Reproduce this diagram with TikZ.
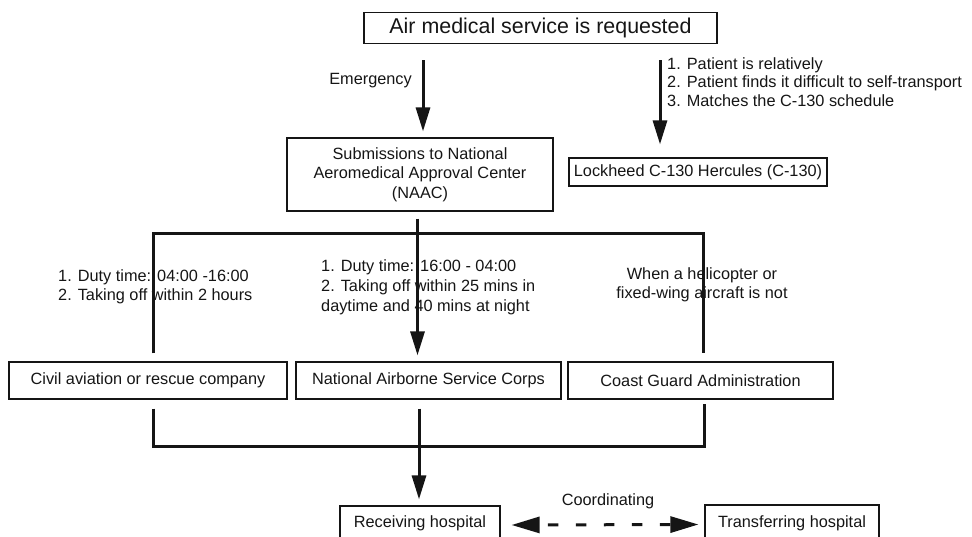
\documentclass[tikz,border=0pt]{standalone}
\usepackage{fontspec}
\setmainfont{Liberation Sans}
\usetikzlibrary{arrows.meta}
\definecolor{ink}{HTML}{151515}
\begin{document}
\begin{tikzpicture}[x=1pt,y=-1pt,
  box/.style={draw=ink, line width=1.2pt, inner sep=0pt, align=center, text=ink,
              font=\fontsize{16.3}{19.5}\selectfont},
  lbl/.style={inner sep=0pt, text=ink, font=\fontsize{16.3}{19}\selectfont},
  conn/.style={line width=3pt, draw=ink},
  arr/.style={conn, -{Triangle[length=24pt,width=14pt]}},
  dbl/.style={conn, dash pattern=on 10.5pt off 17.5pt, dash phase=19pt,
              {Triangle[length=28pt,width=16pt]}-{Triangle[length=28pt,width=16pt]}}
]
\useasboundingbox (0,0) rectangle (972,537);

% boxes
\node[box, minimum width=353pt, minimum height=31pt, font=\fontsize{21.4}{24}\selectfont] (top) at (540.5,28.2) {Air medical service is requested};
\node[box, minimum width=266pt, minimum height=73pt] (naac) at (420,174.5) {Submissions to National\\Aeromedical Approval Center\\(NAAC)};
\node[box, minimum width=258pt, minimum height=28pt] (c130) at (698,172) {Lockheed C-130 Hercules (C-130)};
\node[box, minimum width=278pt, minimum height=37pt] (civil) at (148,380.5) {Civil aviation or rescue company};
\node[box, minimum width=265pt, minimum height=37pt] (nasc) at (428.5,380.5) {National Airborne Service Corps};
\node[box, minimum width=265pt, minimum height=37pt] (cga) at (700.5,380.5) {Coast Guard Administration};
\node[box, minimum width=160pt, minimum height=35pt] (recv) at (420,523.5) {Receiving hospital};
\node[box, minimum width=174pt, minimum height=36pt] (trans) at (792,523) {Transferring hospital};

% labels
\node[lbl, anchor=east] (emerg) at (412,81) {Emergency};
\node[lbl, anchor=west, align=left, font=\fontsize{16.3}{18.5}\selectfont] (crit) at (667,82) {1. Patient is relatively\\2. Patient finds it difficult to self-transport\\3. Matches the C-130 schedule};
\node[lbl, anchor=west, align=left] (duty1) at (58,286.5) {1. Duty time: 04:00 -16:00\\2. Taking off within 2 hours};
\node[lbl, anchor=west, align=left, font=\fontsize{16.3}{20}\selectfont] (duty2) at (321,287) {1. Duty time: 16:00 - 04:00\\2. Taking off within 25 mins in\\daytime and 40 mins at night};
\node[lbl, align=center] (cgnote) at (702,284.5) {When a helicopter or\\fixed-wing aircraft is not};
\node[lbl] (coord) at (608,501) {Coordinating};

% connector coordinates
\coordinate (ex) at (423,0);
\coordinate (cx) at (660,0);
\coordinate (mx) at (417.5,0);
\coordinate (bl) at (153,234);
\coordinate (br) at (703,234);
\coordinate (ll) at (153,446);
\coordinate (lr) at (704,446);
\coordinate (lx) at (419,0);

% connectors
\draw[arr, shorten <=16pt, shorten >=6pt] (top.south -| ex) -- (naac.north -| ex);
\draw[arr, shorten <=16pt, shorten >=13pt] (top.south -| cx) -- (c130.north -| cx);
\draw[arr, shorten <=7pt, shorten >=6pt] (naac.south -| mx) -- (nasc.north -| mx);
\draw[conn] ([yshift=8pt]civil.north -| bl) -- (bl) -- (br) -- ([yshift=8pt]cga.north -| br);
\draw[conn] ([yshift=-9pt]civil.south -| ll) -- (ll) -- (lr) -- ([yshift=-4pt]cga.south -| lr);
\draw[arr, shorten <=9pt, shorten >=6pt] (nasc.south -| lx) -- (recv.north -| lx);
\draw[dbl] ([xshift=11pt,yshift=-1.5pt]recv.east) -- ([xshift=-6pt,yshift=-1.5pt]trans.west);
\end{tikzpicture}
\end{document}
